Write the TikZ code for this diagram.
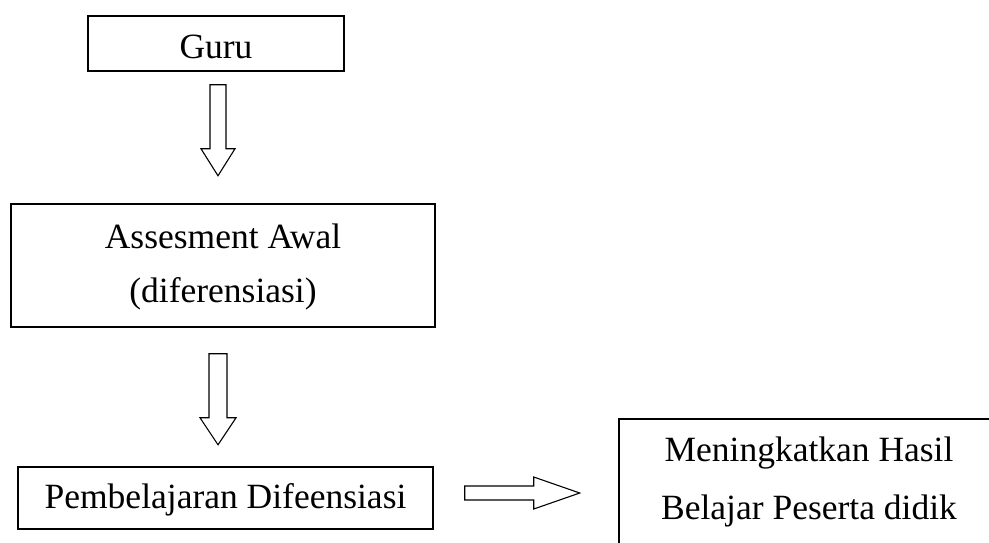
\documentclass[tikz,border=0pt]{standalone}
\usepackage{fontspec}
\setmainfont{Liberation Serif}
\usetikzlibrary{calc}
\tikzset{
  boxnode/.style={draw=black, line width=1.5pt, rectangle, inner sep=0pt},
  txt/.style={inner sep=0pt, anchor=base, font=\fontsize{35.5}{42}\selectfont},
  blockarrow/.style={draw=black, line width=1.1pt, fill=white, line join=miter},
}
\begin{document}
\begin{tikzpicture}[x=1pt,y=-1pt]
\clip (0,0) rectangle (989,542);
\fill[white] (0,0) rectangle (989,542);
% boxes
\node[boxnode, minimum width=256pt, minimum height=55pt] (guru) at (216,43.5) {};
\node[boxnode, minimum width=424pt, minimum height=123pt] (assess) at (223,265.5) {};
\node[boxnode, minimum width=415pt, minimum height=62pt] (pemb) at (225.5,498) {};
\node[boxnode, minimum width=381pt, minimum height=150pt] (hasil) at (809.5,494) {};
% texts
\node[txt] (tguru) at (216,58) {Guru};
\node[txt] (tass1) at (223,248) {Assesment Awal};
\node[txt] (tass2) at (223,302) {(diferensiasi)};
\node[txt] (tpemb) at (225.5,508) {Pembelajaran Difeensiasi};
\node[txt] (thas1) at (809,461) {Meningkatkan Hasil};
\node[txt] (thas2) at (809,519) {Belajar Peserta didik};
% block arrows
\coordinate (a1) at ($(guru.south)+(2,13)$);
\draw[blockarrow] ($(a1)+(-8,0)$) -- ++(16,0) -- ++(0,64) -- ++(9,0) -- ++(-17,27) -- ++(-17,-27) -- ++(9,0) -- cycle;
\coordinate (a2) at ($(assess.south)+(-5,26)$);
\draw[blockarrow] ($(a2)+(-9,0)$) -- ++(18,0) -- ++(0,64) -- ++(9,0) -- ++(-18,27) -- ++(-18,-27) -- ++(9,0) -- cycle;
\coordinate (a3) at ($(pemb.east)+(31,-5)$);
\draw[blockarrow] ($(a3)+(0,-7)$) -- ++(69,0) -- ++(0,-9) -- ++(46,16) -- ++(-46,16) -- ++(0,-9) -- ++(-69,0) -- cycle;
\end{tikzpicture}
\end{document}
